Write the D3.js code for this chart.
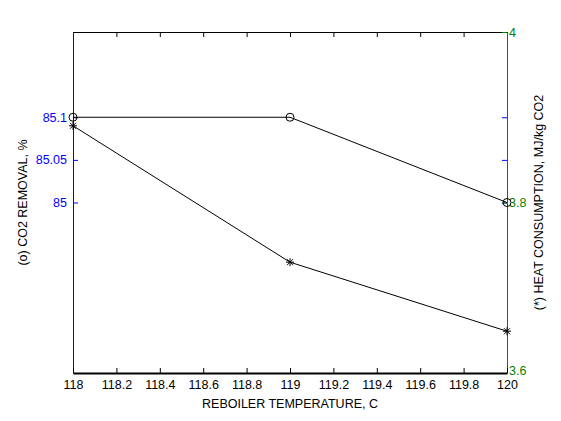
<!DOCTYPE html>
<html>
<head>
<meta charset="utf-8">
<script src="https://cdn.jsdelivr.net/npm/d3@7"></script>
<style>
  body { margin: 0; background: #fff; }
  svg text { font-family: "Liberation Sans", Arial, sans-serif; font-size: 12.5px; }
</style>
</head>
<body>
<div id="chart"></div>
<script>
// data
const temps = [118, 119, 120];
const co2Removal = [85.1, 85.1, 85.0];
const heatUse = [3.89, 3.73, 3.649];
const xTicks = [118, 118.2, 118.4, 118.6, 118.8, 119, 119.2, 119.4, 119.6, 119.8, 120];
const leftTicks = [85, 85.05, 85.1];
const rightTicks = [3.6, 3.8, 4];

const width = 561, height = 421;
const margin = { left: 73, right: 54, top: 32, bottom: 48 };
const innerW = width - margin.left - margin.right;
const innerH = height - margin.top - margin.bottom;

const svg = d3.select("#chart").append("svg")
  .attr("width", width)
  .attr("height", height);

const g = svg.append("g")
  .attr("transform", `translate(${margin.left},${margin.top})`);

const x = d3.scaleLinear().domain([118, 120]).range([0, innerW]);
const yL = d3.scaleLinear().domain([84.8, 85.2]).range([innerH, 0]);
const yR = d3.scaleLinear().domain([3.6, 4]).range([innerH, 0]);

// top ticks
const topAxis = g.append("g")
  .call(d3.axisTop(x).tickValues(xTicks).tickSize(-5).tickSizeOuter(0).tickFormat(""));
topAxis.select(".domain").attr("stroke", "#000");

// left ticks mirrored at right side
const leftMirror = g.append("g")
  .attr("transform", `translate(${innerW},0)`)
  .call(d3.axisRight(yL).tickValues(leftTicks).tickSize(-5).tickSizeOuter(0).tickFormat(""));
leftMirror.select(".domain").remove();
leftMirror.selectAll("line").attr("stroke", "#0000ff");

// right axis (green)
const rightAxis = g.append("g")
  .attr("transform", `translate(${innerW},0)`)
  .call(d3.axisRight(yR).tickValues(rightTicks).tickSize(-5).tickSizeOuter(0).tickPadding(2).tickFormat(d3.format("")));
rightAxis.selectAll("line, .domain").attr("stroke", "#007f00");
rightAxis.selectAll("text").attr("fill", "#007f00");
rightAxis.selectAll(".tick").filter(d => d === 3.6).select("text").attr("dy", "0.1em");

// left axis (blue)
const leftAxis = g.append("g")
  .call(d3.axisLeft(yL).tickValues(leftTicks).tickSize(-5).tickSizeOuter(0).tickPadding(6).tickFormat(d3.format("")));
leftAxis.selectAll("line, .domain").attr("stroke", "#0000ff");
leftAxis.selectAll("text").attr("fill", "#0000ff");

// bottom axis
const xAxis = g.append("g")
  .attr("transform", `translate(0,${innerH})`)
  .call(d3.axisBottom(x).tickValues(xTicks).tickSize(-5).tickSizeOuter(0).tickPadding(7).tickFormat(d3.format("")));
xAxis.select(".domain").attr("stroke", "#000").attr("stroke-width", 2);

g.selectAll(".tick text").attr("font-size", 12.5).attr("font-family", "Liberation Sans, Arial, sans-serif");

// CO2 removal line with circles
g.append("path")
  .datum(temps.map((t, i) => [t, co2Removal[i]]))
  .attr("fill", "none")
  .attr("stroke", "#000")
  .attr("d", d3.line().x(d => x(d[0])).y(d => yL(d[1])));

g.selectAll(".circ")
  .data(temps.map((t, i) => [t, co2Removal[i]]))
  .join("circle")
  .attr("cx", d => x(d[0]))
  .attr("cy", d => yL(d[1]))
  .attr("r", 4)
  .attr("fill", "none")
  .attr("stroke", "#000");

// heat consumption line with stars
g.append("path")
  .datum(temps.map((t, i) => [t, heatUse[i]]))
  .attr("fill", "none")
  .attr("stroke", "#000")
  .attr("d", d3.line().x(d => x(d[0])).y(d => yR(d[1])));

g.selectAll(".star")
  .data(temps.map((t, i) => [t, heatUse[i]]))
  .join("path")
  .attr("transform", d => `translate(${x(d[0])},${yR(d[1])})`)
  .attr("d", "M-4,0H4M0,-4V4M-3,-3L3,3M-3,3L3,-3")
  .attr("stroke", "#000")
  .attr("fill", "none");

// axis titles
svg.append("text")
  .attr("x", margin.left + innerW / 2)
  .attr("y", 408)
  .attr("text-anchor", "middle")
  .text("REBOILER TEMPERATURE, C");

svg.append("text")
  .attr("transform", `translate(27,${margin.top + innerH / 2}) rotate(-90)`)
  .attr("text-anchor", "middle")
  .text("(o) CO2 REMOVAL, %");

svg.append("text")
  .attr("transform", `translate(543,${margin.top + innerH / 2}) rotate(-90)`)
  .attr("text-anchor", "middle")
  .text("(*) HEAT CONSUMPTION, MJ/kg CO2");
</script>
</body>
</html>
